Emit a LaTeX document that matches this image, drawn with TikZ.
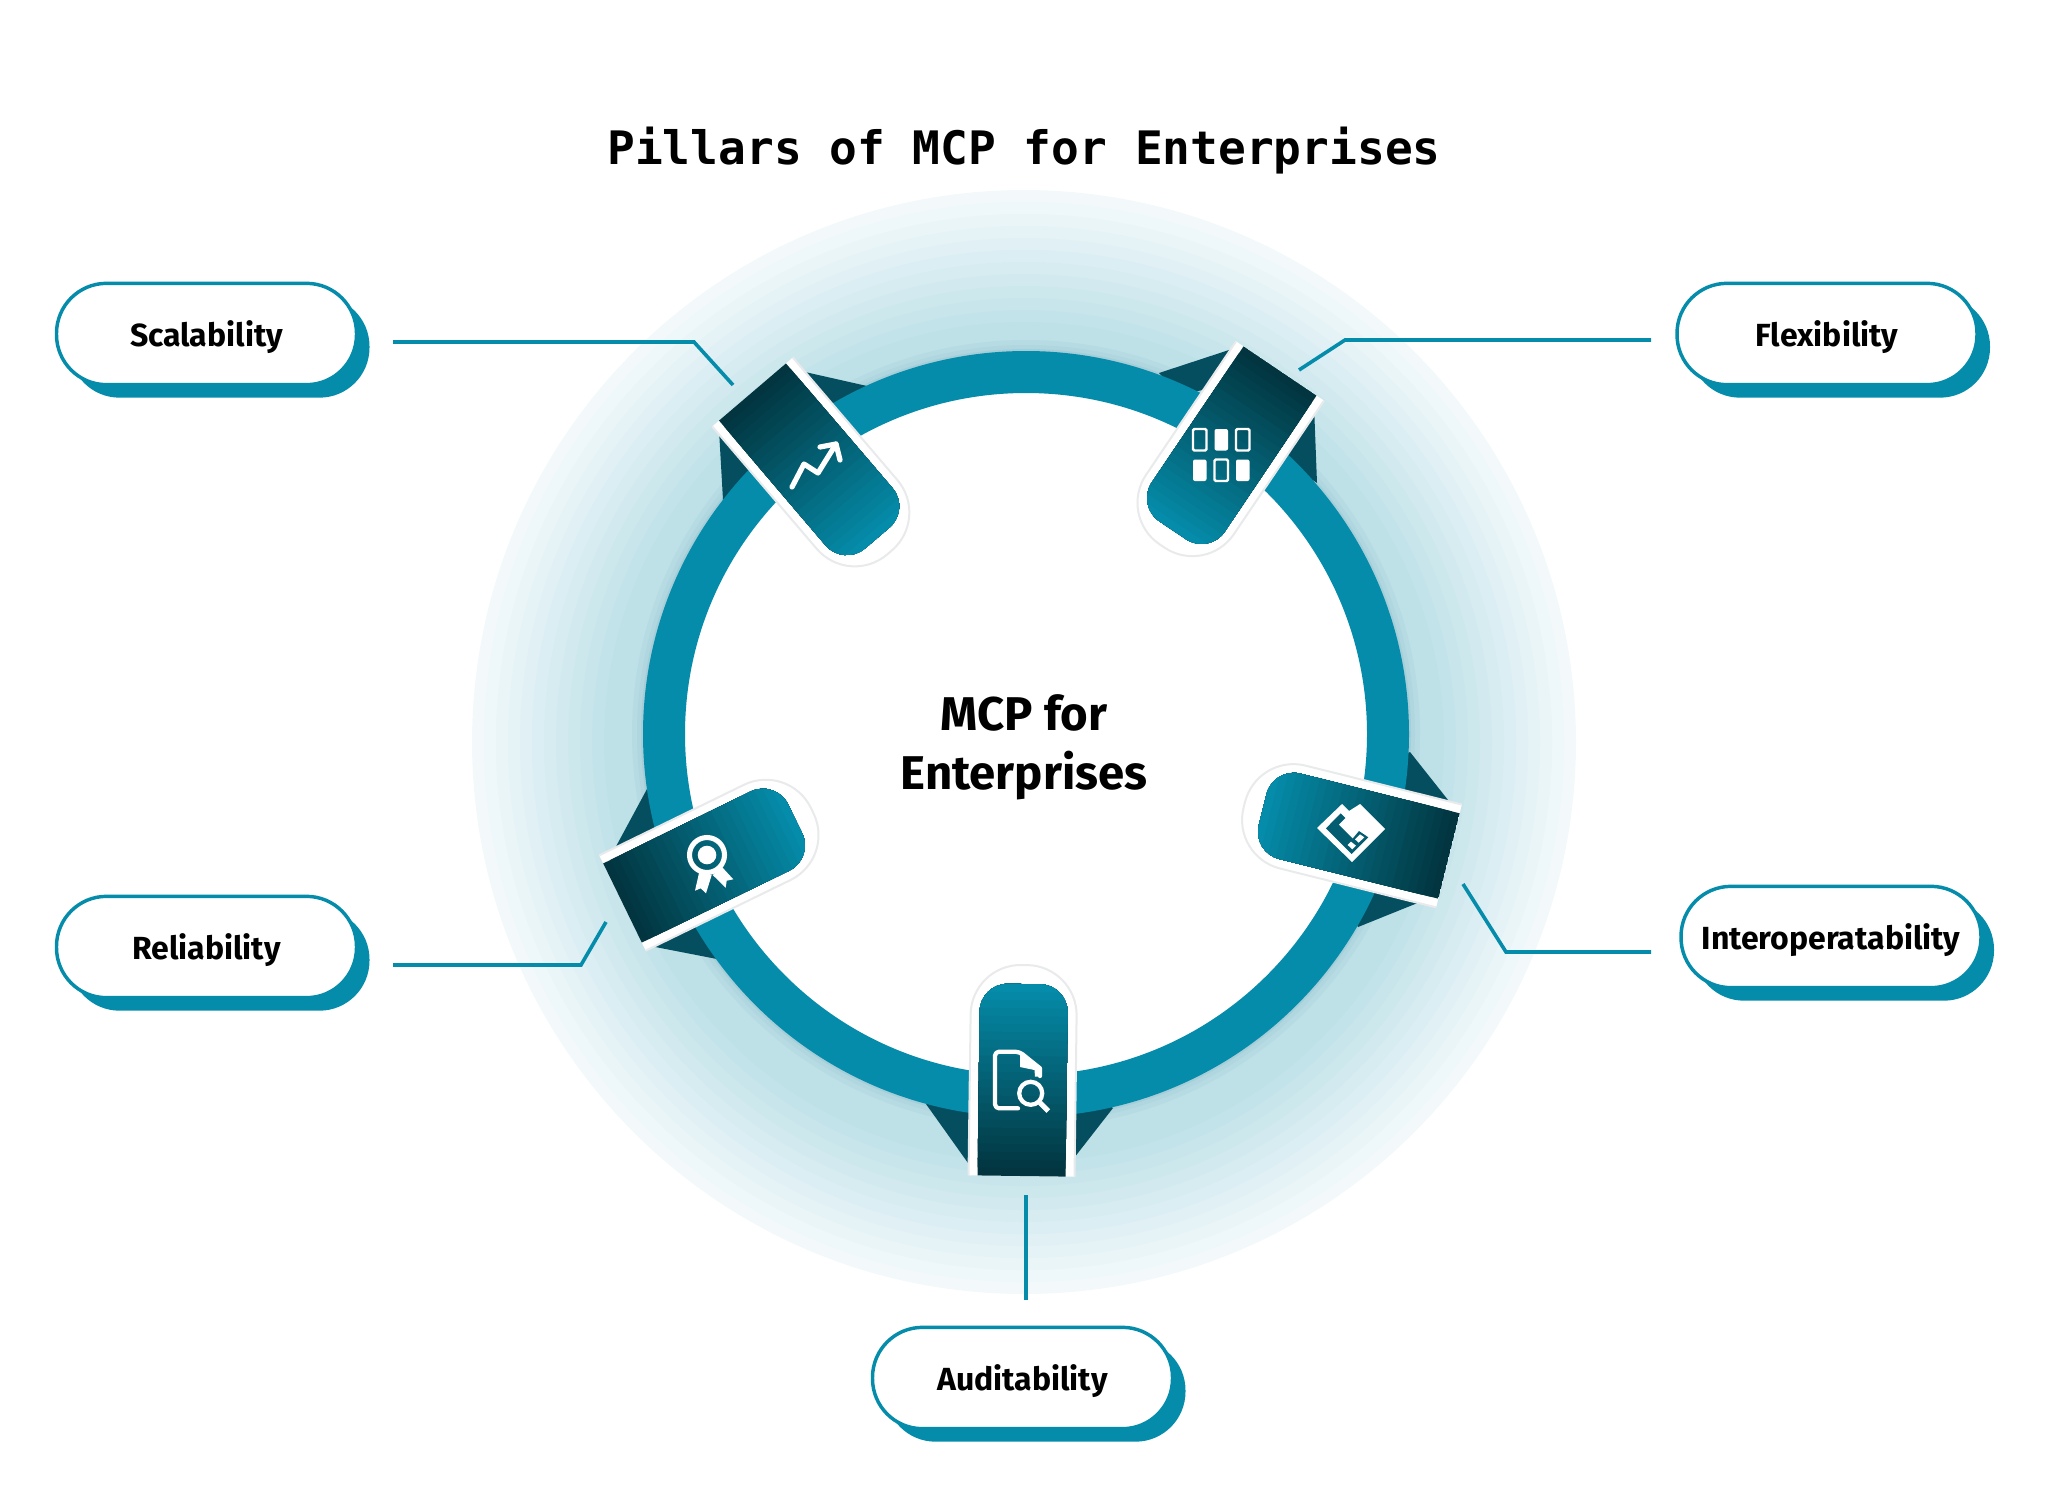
\documentclass[tikz,border=0pt]{standalone}
\usepackage{fontspec}
\setmainfont{Fira Sans}
\newfontfamily\titlefont{DejaVu Sans Mono}
\usetikzlibrary{shadows}

\definecolor{tealmain}{RGB}{5,140,170}
\definecolor{tabdeep}{RGB}{2,53,63}
\definecolor{foldtone}{RGB}{4,78,95}
\definecolor{halopale}{RGB}{243,249,251}
\definecolor{halofull}{RGB}{190,225,232}
\definecolor{halorim}{RGB}{166,206,217}
\definecolor{tabedge}{RGB}{232,234,235}
\definecolor{iconcut}{RGB}{3,92,112}

\tikzset{
  pillbox/.style={draw=tealmain,line width=2.6pt,fill=white,rounded corners=37.5pt,
    minimum width=225pt,minimum height=76pt,text depth=0pt,font=\bfseries\fontsize{24}{28}\selectfont,
    copy shadow={shadow xshift=9.75pt,shadow yshift=-9.75pt,fill=tealmain,draw=none}},
  linkline/.style={draw=tealmain,line width=2.7pt},
  fold/.style={fill=foldtone},
  iconline/.style={draw=white,line width=3.9pt,line cap=round,line join=round},
  gridfill/.style={fill=white,rounded corners=1.5pt},
  gridopen/.style={draw=white,line width=1.8pt,rounded corners=1pt},
  pics/pillar/.style={code={
    \fill [white] (0,-53) [rounded corners=37.5pt] -- (211,-53) -- (211,53) [sharp corners] -- (0,53) -- cycle;
    \draw [tabedge,line width=1.5pt,rounded corners=37.5pt] (0,-53) -- (211,-53) -- (211,53) -- (0,53);
    \begin{scope}
      \clip [rounded corners=21pt] (0,-44) -- (192,-44) -- (192,44) [sharp corners] -- (0,44) -- cycle;
      \foreach \i in {0,...,23} {
        \pgfmathtruncatemacro{\tone}{\i*100/23}
        \fill [tealmain!\tone!tabdeep] (\i*8,-45) rectangle (193,45);
      }
    \end{scope}
  }}
}

\begin{document}
\begin{tikzpicture}[x=0.75pt,y=0.75pt,yscale=-1,xscale=1]
\useasboundingbox (0,0) rectangle (2048,1485);

%Shape: Circle, halo bands
\foreach \i in {0,...,11} {
  \pgfmathsetmacro{\rad}{552-12*\i}
  \pgfmathtruncatemacro{\tone}{100*\i/11}
  \fill [halofull!\tone!halopale] (1024,742) circle (\rad);
}
\foreach \rad/\tone in {394/30,389/60,385/100} {
  \fill [halorim!\tone!halofull] (1026,734) circle (\rad);
}

%Shape: Polygon, folds behind the ring
\fill [fold] (805,372) -- (867,386) -- (860,410) -- (820,420) -- cycle;
\fill [fold] (719,430) -- (723,500) -- (750,480) -- (770,470) -- cycle;
\fill [fold] (1232,349) -- (1159,373) -- (1180,395) -- (1225,385) -- cycle;
\fill [fold] (1314,405) -- (1317,483) -- (1290,465) -- (1275,430) -- cycle;
\fill [fold] (1410,752) -- (1452,805) -- (1400,800) -- (1395,760) -- cycle;
\fill [fold] (1425,900) -- (1358,927) -- (1345,905) -- (1380,890) -- cycle;
\fill [fold] (926,1104) -- (968,1163) -- (985,1100) -- (940,1095) -- cycle;
\fill [fold] (1113,1108) -- (1074,1158) -- (1060,1100) -- (1100,1100) -- cycle;
\fill [fold] (647,789) -- (613,852) -- (660,840) -- (665,790) -- cycle;
\fill [fold] (645,945) -- (717,959) -- (730,930) -- (690,920) -- cycle;

%Shape: Circle, ring
\draw [tealmain,fill=white,line width=31.5pt] (1026,734) circle (362);

%Shape: Pillars
\begin{scope}[shift={(752.5,392)},rotate=49.5] \pic [transform shape] {pillar}; \end{scope}
\begin{scope}[shift={(1280,371)},rotate=124] \pic [transform shape] {pillar}; \end{scope}
\begin{scope}[shift={(1449,856)},rotate=194] \pic [transform shape] {pillar}; \end{scope}
\begin{scope}[shift={(1021.5,1176)},rotate=-89.25] \pic [transform shape] {pillar}; \end{scope}
\begin{scope}[shift={(622.5,903)},rotate=-26] \pic [transform shape] {pillar}; \end{scope}

%Icon: chart arrow
\draw [iconline] (792,487) -- (804,464) -- (818,473) -- (836,444);
\draw [iconline] (820,447) -- (836,444) -- (840,460);

%Icon: grid of tiles
\foreach \x/\y/\kind in {1193/429/gridopen,1214.5/429/gridfill,1236/429/gridopen,1193/459.5/gridfill,1214.5/459.5/gridopen,1236/459.5/gridfill} {
  \path [\kind] (\x,\y) rectangle ++(13.5,21.5);
}

%Icon: two sheets
\fill [white] (1317,828) -- (1342,804) -- (1349,811) -- (1360,804) -- (1385,829) -- (1352,862) -- cycle;
\begin{scope}[shift={(1220,730)},scale=0.3333]
  \fill [iconcut] (318,295) -- (362,250) -- (376,264) -- (356,284) -- (398,326) -- (417,303) -- (445,322) -- (395,372) -- cycle;
  \fill [white] (383,345) -- (393,335) -- (408,347) -- (397,358) -- cycle;
  \fill [white] (405,328) -- (420,313) -- (433,322) -- (416,338) -- cycle;
\end{scope}

%Icon: document and lens
\draw [iconline,line width=3.2pt] (1018,1108.3) -- (999,1108.3) [rounded corners=3pt] -- (995,1108.3) -- (995,1051.7) -- (1019.3,1051.7) [sharp corners] -- (1040,1068.3) -- (1040,1076);
\fill [white] (1020,1053) -- (1040,1068.3) -- (1040,1076.7) -- (1035,1076.7) -- (1034.5,1070) -- (1020,1067) -- cycle;
\draw [white,line width=3.2pt] (1030.7,1093.3) circle (11.5);
\draw [white,line width=3.8pt] (1040,1102.7) -- (1048.3,1111);

%Icon: rosette
\draw [white,line width=3.8pt] (707,855) circle (17.5);
\fill [white] (707,855) circle (9.3);
\fill [white] (699.3,871.7) -- (711.7,875) -- (706,893.3) -- (700.7,888.3) -- (695,890.7) -- cycle;
\fill [white] (712.7,875) -- (721.7,866.7) -- (733.3,879.3) -- (726.7,880.7) -- (725.7,887.7) -- cycle;

% Text Node
\node [font=\titlefont\bfseries\fontsize{34.6}{41}\selectfont] (title) at (1024,151) {Pillars of MCP for Enterprises};
\node [font=\bfseries\fontsize{35.5}{44}\selectfont,align=center] (hub) at (1024,747) {MCP for\\Enterprises};

% Pills
\node [pillbox] (scalability) at (206.5,334) {Scalability};
\node [pillbox] (flexibility) at (1827,334) {Flexibility};
\node [pillbox] (interop) at (1831,937) {Interoperatability};
\node [pillbox] (auditability) at (1022.5,1378) {Auditability};
\node [pillbox] (reliability) at (206.5,947) {Reliability};

% Connector ends
\coordinate (scalabilityfoot) at (393,342);
\coordinate (scalabilityelbow) at (694,342);
\coordinate (scalabilitytip) at (733,385);
\coordinate (flexibilityfoot) at (1651,340);
\coordinate (flexibilityelbow) at (1345,340);
\coordinate (flexibilitytip) at (1299,370);
\coordinate (interopfoot) at (1651,952);
\coordinate (interopelbow) at (1506,952);
\coordinate (interoptip) at (1463,884);
\coordinate (auditabilityfoot) at (1026,1300);
\coordinate (auditabilitytip) at (1026,1195);
\coordinate (reliabilityfoot) at (393,965);
\coordinate (reliabilityelbow) at (581,965);
\coordinate (reliabilitytip) at (606,922);

\draw [linkline] (scalabilityfoot) -- (scalabilityelbow) -- (scalabilitytip);
\draw [linkline] (flexibilityfoot) -- (flexibilityelbow) -- (flexibilitytip);
\draw [linkline] (interopfoot) -- (interopelbow) -- (interoptip);
\draw [linkline] (auditabilityfoot) -- (auditabilitytip);
\draw [linkline] (reliabilityfoot) -- (reliabilityelbow) -- (reliabilitytip);

\end{tikzpicture}
\end{document}
